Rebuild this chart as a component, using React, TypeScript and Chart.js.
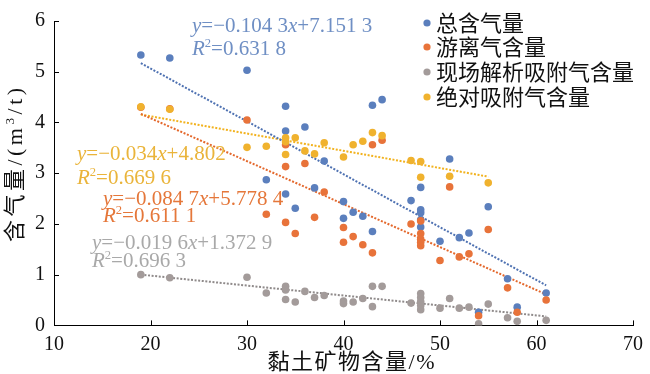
import React, { useEffect, useRef } from 'react';
import { Chart, registerables } from 'chart.js';

Chart.register(...registerables);

// ---- data ----
const clay = [19, 22, 30, 32, 34, 34, 34, 35, 36, 37, 38, 40, 40, 41, 42, 43, 43, 44, 47, 48, 48, 48, 48, 48, 50, 51, 52, 53, 54, 55, 57, 58, 61];
const totalGas = [5.33, 5.27, 5.03, 2.87, 4.32, 3.83, 2.59, 2.31, 3.91, 2.71, 3.24, 2.44, 2.11, 2.23, 2.15, 4.34, 1.85, 4.45, 2.46, 2.72, 2.28, 2.22, 2.08, 1.94, 1.66, 3.28, 1.73, 1.82, 0.26, 2.34, 0.92, 0.36, 0.64];
const freeGas = [4.3, 4.27, 4.05, 2.19, 3.56, 3.13, 2.03, 1.81, 3.19, 2.13, 2.63, 1.93, 1.64, 1.75, 1.59, 3.56, 1.43, 3.65, 2.0, 2.06, 1.81, 1.7, 1.64, 1.57, 1.28, 2.73, 1.35, 1.41, 0.19, 1.89, 0.74, 0.26, 0.5];
const desorbedGas = [1.0, 0.94, 0.95, 0.64, 0.77, 0.7, 0.51, 0.46, 0.67, 0.55, 0.59, 0.48, 0.43, 0.46, 0.53, 0.77, 0.37, 0.77, 0.44, 0.63, 0.55, 0.47, 0.39, 0.31, 0.34, 0.53, 0.34, 0.36, 0.03, 0.42, 0.15, 0.08, 0.1];
const clayAbs = [19, 22, 30, 32, 34, 34, 34, 35, 36, 37, 38, 40, 41, 42, 43, 44, 47, 48, 48, 51, 55];
const absGas = [4.31, 4.26, 3.51, 3.53, 3.7, 3.62, 3.37, 3.7, 3.44, 3.38, 3.6, 3.32, 3.56, 3.63, 3.8, 3.74, 3.25, 3.23, 2.92, 2.94, 2.81];

const seriesNames = ['总含气量', '游离气含量', '现场解析吸附气含量', '绝对吸附气含量'];
const pointColors = ['#5b7fbd', '#e8733a', '#a39b9a', '#f0b22e'];
const lineColors = ['#4f72b2', '#e4682c', '#8f8a8a', '#f2b21e'];
const textColors = ['#6f8fc4', '#e5773a', '#a9a9a9', '#eab43a'];
// trendline: slope, intercept, x-range
const slopes = [-0.1043, -0.0847, -0.0196, -0.034];
const intercepts = [7.1513, 5.7784, 1.3729, 4.802];
const fitStart = [19, 19, 19, 19];
const fitEnd = [61, 61, 61, 55];
const eqSlopeText = ['0.104 3', '0.084 7', '0.019 6', '0.034'];
const eqInterText = ['7.151 3', '5.778 4', '1.372 9', '4.802'];
const r2Text = ['0.631 8', '0.611 1', '0.696 3', '0.669 6'];

const xTicks = [10, 20, 30, 40, 50, 60, 70];
const yTicks = [0, 1, 2, 3, 4, 5, 6];

const SERIF = '"Liberation Serif", "Times New Roman", serif';
const CJK = '"Noto Sans CJK SC", sans-serif';

type Seg = { t: string; i?: boolean; sup?: boolean; f?: string };

function segWidth(ctx: CanvasRenderingContext2D, segs: Seg[], size: number, ls: number) {
  let w = 0;
  for (const s of segs) {
    const sz = s.sup ? size * 0.6 : size;
    ctx.font = `${s.i ? 'italic ' : ''}${sz}px ${s.f || SERIF}`;
    for (const ch of Array.from(s.t)) w += ctx.measureText(ch).width + ls;
  }
  return w - ls;
}

function drawRich(ctx: CanvasRenderingContext2D, x: number, yc: number, segs: Seg[], size: number, color: string, ls = 0) {
  let cx = x;
  ctx.fillStyle = color;
  ctx.textBaseline = 'alphabetic';
  ctx.textAlign = 'left';
  const base = yc + size * 0.33;
  for (const s of segs) {
    const sz = s.sup ? size * 0.6 : size;
    ctx.font = `${s.i ? 'italic ' : ''}${sz}px ${s.f || SERIF}`;
    const dy = s.sup ? -size * 0.38 : 0;
    if (ls === 0) {
      ctx.fillText(s.t, cx, base + dy);
      cx += ctx.measureText(s.t).width;
    } else {
      for (const ch of Array.from(s.t)) {
        ctx.fillText(ch, cx, base + dy);
        cx += ctx.measureText(ch).width + ls;
      }
    }
  }
  return cx - x;
}

function eqSegs(k: number): Seg[] {
  return [
    { t: 'y', i: true },
    { t: '=\u2212' + eqSlopeText[k] },
    { t: 'x', i: true },
    { t: '+' + eqInterText[k] },
  ];
}
function r2Segs(k: number): Seg[] {
  return [{ t: 'R', i: true }, { t: '2', sup: true }, { t: '=' + r2Text[k] }];
}

// label anchor positions (left x, center y of equation line, center y of R² line)
const eqPos = [
  [192, 25, 48],
  [103, 198, 215],
  [92, 242, 260],
  [77, 153, 177],
];

const overlay = {
  id: 'overlay',
  afterDraw(chart: any) {
    const ctx: CanvasRenderingContext2D = chart.ctx;
    const xs = chart.scales.x;
    const ys = chart.scales.y;
    const { left, bottom } = chart.chartArea;
    ctx.save();
    // inner ticks
    ctx.strokeStyle = '#000';
    ctx.lineWidth = 1;
    ctx.beginPath();
    for (const v of xTicks) {
      const px = Math.round(xs.getPixelForValue(v)) + 0.5;
      ctx.moveTo(px, bottom);
      ctx.lineTo(px, bottom - 5);
    }
    for (const v of yTicks) {
      const py = Math.round(ys.getPixelForValue(v)) + 0.5;
      ctx.moveTo(left, py);
      ctx.lineTo(left + 5, py);
    }
    ctx.stroke();

    // equations
    for (let k = 0; k < 4; k++) {
      const [lx, y1, y2] = eqPos[k];
      drawRich(ctx, lx, y1, eqSegs(k), 21, textColors[k]);
      drawRich(ctx, lx, y2, r2Segs(k), 21, textColors[k]);
    }

    // legend
    const legY = [23, 47, 72, 97];
    for (let k = 0; k < 4; k++) {
      ctx.fillStyle = pointColors[k];
      ctx.beginPath();
      ctx.arc(427, legY[k], 3.6, 0, Math.PI * 2);
      ctx.fill();
      ctx.fillStyle = '#111';
      ctx.font = `22px ${CJK}`;
      ctx.textBaseline = 'middle';
      ctx.textAlign = 'left';
      ctx.fillText(seriesNames[k], 436, legY[k]);
    }

    // x title
    const xt: Seg[] = [{ t: '黏土矿物含量', f: CJK }, { t: '/%' }];
    const xw = segWidth(ctx, xt, 22, 1.5);
    drawRich(ctx, 351 - xw / 2, 362, xt, 22, '#111', 1.5);

    // y title (rotated)
    ctx.save();
    ctx.translate(15, 165);
    ctx.rotate(-Math.PI / 2);
    const yt: Seg[] = [{ t: '含气量', f: CJK }, { t: '/(m' }, { t: '3', sup: true }, { t: '/t)' }];
    const yw = segWidth(ctx, yt, 22, 3.5);
    drawRich(ctx, -yw / 2, 0, yt, 22, '#111', 3.5);
    ctx.restore();

    ctx.restore();
  },
};

export default function App() {
  const ref = useRef<HTMLCanvasElement | null>(null);
  useEffect(() => {
    document.body.style.margin = '0';
    const canvas = ref.current!;
    const pointSets = [totalGas, freeGas, desorbedGas, absGas];
    const xSets = [clay, clay, clay, clayAbs];
    const orders = [4, 3, 2, 1];
    const datasets: any[] = [];
    for (let k = 0; k < 4; k++) {
      datasets.push({
        label: seriesNames[k],
        data: xSets[k].map((x, i) => ({ x, y: pointSets[k][i] })),
        backgroundColor: pointColors[k],
        borderColor: pointColors[k],
        borderWidth: 0,
        pointRadius: 3.8,
        showLine: false,
        order: orders[k],
      });
    }
    for (let k = 0; k < 4; k++) {
      datasets.push({
        label: 'fit' + k,
        data: [fitStart[k], fitEnd[k]].map((x) => ({ x, y: slopes[k] * x + intercepts[k] })),
        borderColor: lineColors[k],
        borderWidth: 2,
        borderDash: [2, 1.6],
        pointRadius: 0,
        showLine: true,
        fill: false,
        order: 10 + k,
      });
    }
    const chart = new Chart(canvas, {
      type: 'scatter',
      data: { datasets },
      options: {
        animation: false,
        responsive: false,
        maintainAspectRatio: false,
        layout: { padding: { top: 9, right: 13, left: 0, bottom: 0 } },
        plugins: { legend: { display: false }, tooltip: { enabled: false } },
        scales: {
          x: {
            type: 'linear',
            min: 10,
            max: 70,
            ticks: { stepSize: 10, color: '#111', font: { family: SERIF, size: 20 }, padding: 7 },
            grid: { display: false, drawTicks: false },
            border: { display: true, color: '#000', width: 1 },
            afterFit: (s: any) => {
              s.height = 48.6;
            },
          },
          y: {
            type: 'linear',
            min: 0,
            max: 6,
            ticks: { stepSize: 1, color: '#111', font: { family: SERIF, size: 20 }, padding: 9 },
            grid: { display: false, drawTicks: false },
            border: { display: true, color: '#000', width: 1 },
            afterFit: (s: any) => {
              s.width = 54;
            },
          },
        },
      },
      plugins: [overlay],
    } as any);
    return () => chart.destroy();
  }, []);
  return (
    <div style={{ position: 'absolute', left: 0, top: 0, width: 650, height: 374, background: '#fff' }}>
      <canvas ref={ref} width={650} height={374} style={{ display: 'block' }} />
    </div>
  );
}
